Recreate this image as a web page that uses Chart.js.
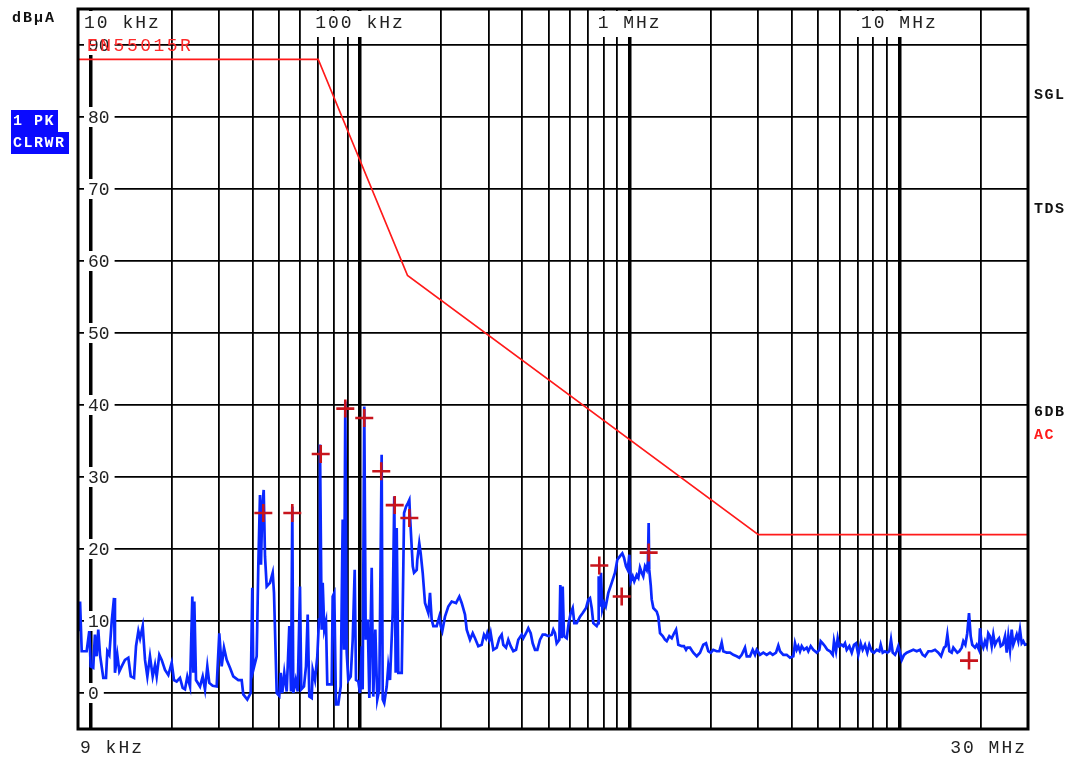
<!DOCTYPE html>
<html><head><meta charset="utf-8">
<script src="https://cdn.jsdelivr.net/npm/chart.js@4/dist/chart.umd.min.js"></script>
<style>html,body{margin:0;padding:0;background:#fff;}#wrap{position:relative;width:1069px;height:758px;}</style>
</head><body><div id="wrap"><canvas id="c" width="1069" height="758"></canvas></div>
<script>
// ---- data (frequency in kHz, level in dBµA) ----
const freqKHz = [
9.02,9.16,9.29,9.69,9.91,10.03,10.25,10.40,10.55,10.70,
10.86,11.17,11.43,11.56,11.76,12.00,12.24,12.34,12.59,12.81,
13.07,13.44,13.83,14.12,14.52,14.77,15.07,15.29,15.64,15.95,
16.27,16.64,17.03,17.37,17.62,18.02,18.39,18.92,19.46,20.03,
20.42,20.90,21.50,22.0,22.44,22.89,23.42,23.89,24.09,24.30,
24.65,25.51,26.10,26.62,27.15,27.61,28.42,29.41,30.07,30.69,
31.30,32.03,32.95,33.89,35.37,36.41,36.91,38.20,39.32,39.86,
40.20,41.39,41.96,42.57,42.94,43.42,43.94,44.43,45.08,46.37,
47.45,47.98,49.10,50.20,50.81,51.50,52.39,53.48,54.68,55.48,
56.09,56.57,57.74,58.74,59.90,60.57,61.98,63.05,63.98,64.87,
66.21,66.77,68.10,69.45,70.46,71.06,72.09,72.72,73.71,74.79,
75.63,78.52,79.19,80.29,81.46,83.08,84.80,86.26,87.22,88.20,
89.27,90.49,92.37,93.96,95.57,96.64,98.56,100,101.5,102.3,
103.7,105.0,106.8,108.3,110.5,112.0,114.0,115.9,117.9,120.3,
121.4,123.0,125.6,127.3,129.2,132.2,134.0,135.6,136.8,138.7,
142.8,144.0,145.7,148.2,150.7,152.4,153.3,156.9,158.6,162.3,
163.1,165.9,167.9,170.8,174.2,179.2,181.8,184.4,187.0,192.5,
196.8,199.2,201.9,206.6,212.5,218.8,227.0,233.5,238.3,245.1,
248.7,255.8,261.8,267.0,274.6,282.6,288.3,293.2,296.5,301.6,
305.2,312.1,321.3,328.5,335.3,339.9,347.9,354.7,362.1,370.2,
378.9,386.3,397.7,403.2,412.6,420.8,429.5,436.9,445.6,454.5,
465.1,475.9,486.6,499.2,513.9,521.0,528.6,536.3,548.4,553.0,
559.7,564.5,570.7,584.1,594.1,604.4,614.8,623.3,636.2,654.4,
669.7,688.9,702.5,712.6,723.1,733.0,754.6,763.1,767.6,776.1,
782.8,791.6,803.1,815.0,833.2,857.8,882.2,899.9,920.8,939.1,
952.8,969.3,983.4,997.0,1009,1026,1040,1062,1077,1092,
1108,1123,1140,1157,1169,1176,1182,1197,1207,1224,
1260,1277,1296,1326,1352,1372,1403,1432,1461,1486,
1515,1560,1590,1618,1636,1674,1722,1773,1823,1875,
1919,1957,1997,2042,2102,2150,2194,2224,2290,2356,
2423,2494,2550,2603,2677,2717,2794,2859,2916,2958,
3043,3130,3222,3314,3392,3488,3558,3610,3713,3822,
3932,4044,4103,4163,4220,4282,4345,4431,4534,4597,
4692,4798,4868,4939,5050,5110,5198,5301,5406,5532,
5661,5724,5823,5908,5989,6113,6198,6289,6381,6525,
6660,6791,6908,7045,7190,7313,7458,7606,7737,7898,
8055,8243,8428,8529,8676,8848,9024,9180,9314,9451,
9638,9778,9913,10060,10210,10410,10650,10950,11270,11600,
11930,12210,12450,12810,13190,13560,13950,14280,14650,14860,
15070,15330,15640,15860,16090,16410,16690,17030,17270,17570,
17860,18130,18390,18640,19080,19360,19740,19910,20200,20480,
20780,21090,21370,21690,22010,22310,22640,22970,23420,23770,
24180,24660,25020,25360,25730,26100,26460,26850,27240,27620,
28020,28430,28820,29240,30000
];
const levelDB = [
8.6,12.7,5.8,5.8,8.6,3.7,3.5,8.1,5.1,8.8,
5.3,2.1,2.1,5.8,5.3,9.9,13.2,2.8,5.3,3.0,
3.7,4.6,4.9,2.3,2.1,6.5,8.6,7.6,9.3,4.6,
2.3,5.1,2.3,3.9,2.3,5.3,4.6,3.2,2.5,4.2,
1.8,1.6,2.1,0.7,0.5,2.3,0.9,13.4,2.8,12.7,
1.8,0.9,2.3,0.5,3.7,1.4,1.0,0.9,8.3,3.7,
6.3,4.6,3.5,2.3,1.8,1.8,-0.2,-0.9,0,14.6,
3.2,5.1,17.6,27.5,17.8,25.9,28.2,19.0,14.8,15.3,
16.7,13.9,0,-0.4,2.8,0,2.8,0.2,9.3,0.2,
25.9,0,1.8,0.2,14.8,0.5,0.9,3.7,10.9,-0.5,
-0.7,3.2,1.8,5.1,10.2,34.5,8.8,15.3,8.8,9.9,
1.2,1.2,13.4,13.9,-1.6,-1.6,0.9,24.1,6.0,40.5,
5.6,1.8,2.3,7.4,17.1,1.8,1.6,0,6.5,0.5,
39.8,7.4,10.2,-0.7,17.4,-0.5,8.8,-0.9,0.5,33.1,
-0.9,-1.4,0.9,3.7,1.8,11.1,27.3,2.8,22.9,2.8,
2.8,11.6,25.0,25.9,26.4,26.8,24.5,17.6,16.7,17.1,
18.5,20.8,19.4,16.7,12.5,11.1,13.9,10.2,9.3,9.3,
10.6,9.3,8.6,10.6,12.0,12.7,12.5,13.4,12.5,10.9,
8.8,7.4,8.3,7.6,6.5,6.7,8.1,7.6,8.3,7.4,
8.3,6.0,6.3,7.6,8.1,6.7,6.3,7.4,6.5,5.8,
6.0,7.4,8.1,7.6,8.3,9.0,8.3,6.9,6.0,6.0,
7.4,8.1,8.1,7.9,8.1,8.8,8.3,6.9,7.4,15.0,
7.6,14.8,7.9,7.6,9.7,11.1,11.8,9.7,9.7,10.6,
11.1,11.8,13.0,13.2,11.8,9.7,9.3,9.7,16.2,12.0,
16.7,11.6,12.5,12.0,13.9,15.3,16.7,18.5,19.0,19.4,
18.8,17.6,17.1,19.2,15.5,16.2,15.5,16.4,16.0,17.4,
16.7,16.2,17.6,17.1,18.3,23.6,17.1,15.0,13.0,11.8,
11.3,10.6,8.3,7.9,7.4,7.2,7.9,7.6,8.3,8.8,
6.7,6.5,6.5,6.0,6.3,6.3,5.6,5.1,5.6,6.7,
6.9,5.8,5.6,6.0,5.8,5.8,7.0,5.8,5.6,5.6,
5.3,5.1,4.9,5.3,6.3,5.1,5.1,6.0,5.3,6.0,
5.3,5.6,5.3,5.6,5.3,5.6,6.6,5.8,5.3,5.3,
4.9,5.1,6.9,6.0,6.5,5.8,6.5,6.0,6.3,5.8,
6.5,6.0,5.8,5.6,6.0,7.2,6.9,6.5,6.0,5.8,
5.3,7.2,5.8,7.6,6.5,6.7,6.5,6.9,6.0,6.5,
5.6,6.7,6.9,5.3,6.9,6.0,6.7,5.6,6.7,5.8,
5.6,6.0,5.8,6.7,5.6,5.8,5.6,5.8,7.4,5.6,
5.3,5.8,6.5,5.6,4.6,5.3,5.6,5.8,6.0,5.8,
6.0,5.3,5.1,5.8,5.8,6.0,5.6,5.1,6.3,6.5,
8.1,5.8,5.6,6.3,6.0,5.6,5.8,6.3,7.2,6.7,
8.3,11.1,7.9,6.7,6.3,6.7,6.0,9.0,6.9,6.3,
7.2,6.5,8.3,7.9,6.5,8.1,6.7,7.2,7.6,6.5,
6.7,7.9,5.6,7.9,6.0,8.8,6.7,7.4,8.1,7.2,
8.8,6.9,7.2,6.7,6.8
];
const limitFreqKHz = [9, 70, 150, 3000, 30000];
const limitDB = [88, 88, 58, 22, 22];
const limitName = 'EN55015R';
const peakFreqKHz = [43.8, 56.1, 71.5, 88.2, 103.7, 119.9, 134.5, 152.4, 771.5, 934.3, 1176, 18130];
const peakDB = [25.0, 25.0, 33.2, 39.5, 38.2, 30.8, 26.1, 24.3, 17.7, 13.4, 19.5, 4.5];
const gridFreqKHz = [10,20,30,40,50,60,70,80,90,100,200,300,400,500,600,700,800,900,
  1000,2000,3000,4000,5000,6000,7000,8000,9000,10000,20000];
const decadeFreqKHz = [10, 100, 1000, 10000];
const decadeLabels = ['10 kHz', '100 kHz', '1 MHz', '10 MHz'];
const yTicks = [0,10,20,30,40,50,60,70,80,90];
const yUnit = 'dBµA';
const xStartLabel = '9 kHz', xEndLabel = '30 MHz';
const traceInfo = ['1 PK', 'CLRWR'];
const rightInfo = ['SGL', 'TDS', '6DB', 'AC'];

// ---- drawing ----
const MONO = '"Liberation Mono", "DejaVu Sans Mono", monospace';
const decor = {
  id: 'decor',
  beforeDatasetsDraw(chart) {
    const {ctx, chartArea: a, scales: {x, y}} = chart;
    ctx.save();
    ctx.textBaseline = 'middle';
    ctx.font = '18px ' + MONO;
    ctx.letterSpacing = '0px';
    yTicks.forEach(v => {
      const py = y.getPixelForValue(v);
      const t = String(v);
      const w = ctx.measureText(t).width;
      ctx.fillStyle = '#fff';
      ctx.fillRect(a.left + 6, py - 10, w + 9, 20);
      ctx.fillStyle = '#222';
      ctx.fillText(t, a.left + 10, py + 1);
    });
    ctx.letterSpacing = '2px';
    decadeFreqKHz.forEach((f, i) => {
      const px = x.getPixelForValue(f);
      const t = decadeLabels[i];
      const w = ctx.measureText(t).width;
      const left = Math.max(px - w / 2, a.left + 6);
      ctx.fillStyle = '#fff';
      ctx.fillRect(left - 4, a.top + 2, w + 6, 26);
      ctx.fillStyle = '#222';
      ctx.fillText(t, left, a.top + 14);
    });
    ctx.letterSpacing = '2.5px';
    ctx.fillStyle = '#ff2a2a';
    ctx.fillText(limitName, a.left + 9, y.getPixelForValue(90) + 1);
    ctx.restore();
  },
  afterDraw(chart) {
    const {ctx, chartArea: a} = chart;
    ctx.save();
    ctx.strokeStyle = '#000';
    ctx.lineWidth = 3;
    ctx.strokeRect(a.left, a.top, a.right - a.left, a.bottom - a.top);
    ctx.textBaseline = 'middle';
    ctx.font = '18px ' + MONO;
    ctx.letterSpacing = '2px';
    ctx.fillStyle = '#222';
    ctx.textAlign = 'left';
    ctx.fillText(xStartLabel, a.left + 2, 748);
    ctx.textAlign = 'right';
    ctx.fillText(xEndLabel, a.right - 1, 748);
    ctx.textAlign = 'left';
    ctx.font = 'bold 15px ' + MONO;
    ctx.letterSpacing = '2px';
    ctx.fillStyle = '#111';
    ctx.fillText(yUnit, 12, 18);
    ctx.fillStyle = '#0a0aff';
    ctx.fillRect(11, 110, 47, 22);
    ctx.fillRect(11, 132, 58, 22);
    ctx.fillStyle = '#fff';
    ctx.letterSpacing = '1.5px';
    ctx.fillText(traceInfo[0], 13, 121);
    ctx.fillText(traceInfo[1], 13, 143);
    const ry = [95, 209, 412, 435];
    rightInfo.forEach((t, i) => {
      ctx.fillStyle = t === 'AC' ? '#ff1a1a' : '#111';
      ctx.fillText(t, 1034, ry[i]);
    });
    ctx.restore();
  }
};

const toPts = (xs, ys) => xs.map((v, i) => ({x: v, y: ys[i]}));
const decadeSet = new Set(decadeFreqKHz);

new Chart(document.getElementById('c'), {
  type: 'scatter',
  data: {
    datasets: [
      {label: 'peaks', data: toPts(peakFreqKHz, peakDB), showLine: false, pointStyle: 'cross',
       pointRadius: 9, pointBorderWidth: 2.6, borderColor: '#c8141c', backgroundColor: '#c8141c', order: 0},
      {label: 'trace', data: toPts(freqKHz, levelDB), showLine: true, pointRadius: 0, borderColor: '#0a28ff',
       borderWidth: 2.7, tension: 0, order: 1},
      {label: 'limit', data: toPts(limitFreqKHz, limitDB), showLine: true, pointRadius: 0, borderColor: '#ff1a1a',
       borderWidth: 1.6, tension: 0, order: 2}
    ]
  },
  options: {
    responsive: false, animation: false, devicePixelRatio: 1,
    layout: {autoPadding: false, padding: {left: 78, right: 41, top: 9, bottom: 29}},
    plugins: {legend: {display: false}, tooltip: {enabled: false}},
    scales: {
      x: {type: 'logarithmic', min: 9, max: 30000,
          ticks: {display: false}, border: {display: false},
          grid: {color: '#000', drawTicks: false,
                 lineWidth: c => (c.tick && decadeSet.has(c.tick.value)) ? 3.5 : 1.8},
          afterBuildTicks: s => { s.ticks = gridFreqKHz.map(v => ({value: v})); }},
      y: {type: 'linear', min: -5, max: 95,
          ticks: {display: false}, border: {display: false},
          grid: {color: '#000', drawTicks: false, lineWidth: 1.8},
          afterBuildTicks: s => { s.ticks = yTicks.map(v => ({value: v})); }}
    }
  },
  plugins: [decor]
});
</script></body></html>
